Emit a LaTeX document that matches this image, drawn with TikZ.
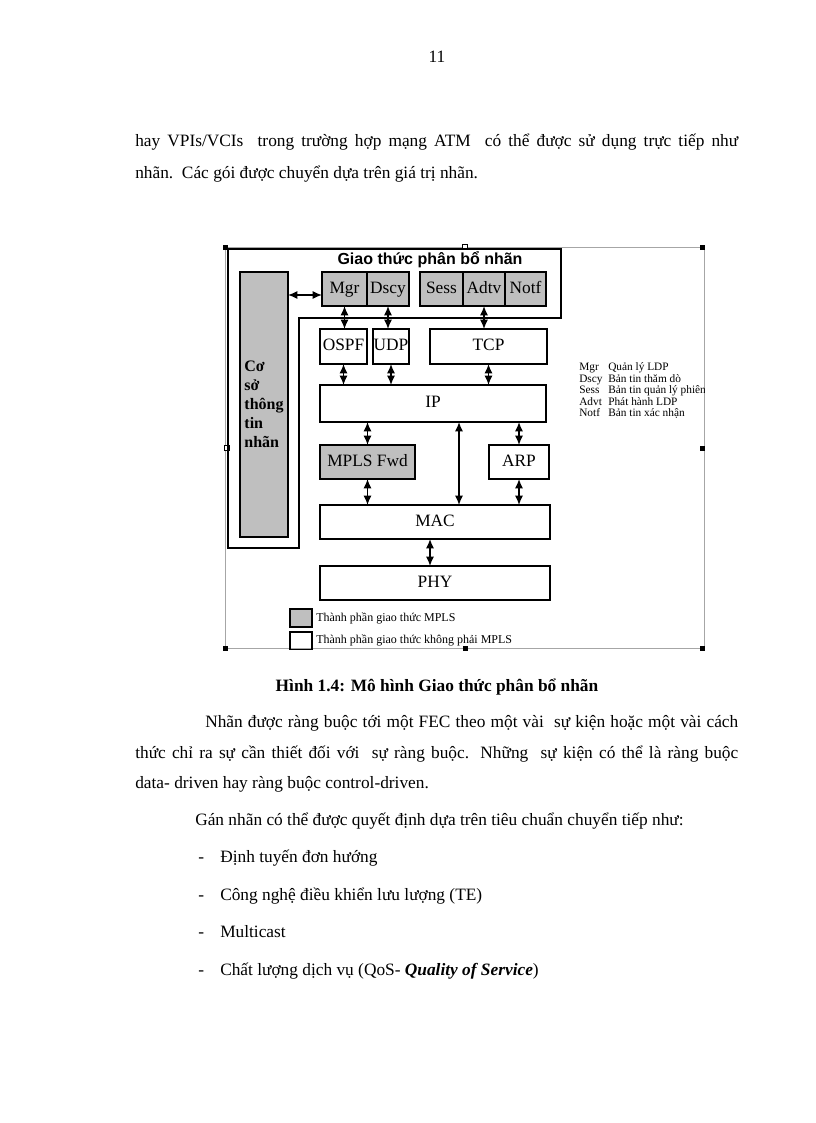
\documentclass[tikz,border=0pt]{standalone}
\usepackage{fontspec}
\setmainfont{Liberation Serif}
\newfontfamily\tieude{Liberation Sans}
\usepackage{tikz}
\usetikzlibrary{arrows, arrows.meta, positioning}

% eine Zeile im Blocksatz
\newcommand{\dongdu}[2]{\makebox[#1][s]{#2}}

\begin{document}
\begin{tikzpicture}[x=0.75pt, y=-0.75pt,
			>={Latex[length=7pt, width=6pt]},   % Pfeilspitzen
			font=\fontsize{13}{15}\selectfont,
			khoi/.style={draw, line width=1.1pt, inner sep=0pt, outer sep=0pt, minimum height=25.5pt, text height=9pt, text depth=2.5pt, font=\fontsize{13}{15}\selectfont},
			khoimpls/.style={khoi, fill=gray!50},
			mui/.style={<->, line width=1.1pt},
			dong/.style={anchor=base west, inner sep=0pt}]
			\useasboundingbox (0,0) rectangle (816,1123);
			% Seitenzahl und Text oben
			\node[anchor=base, inner sep=0pt] (trang) at (437,63) {11};
			\node[dong] (d1) at (135,147) {\dongdu{452.25pt}{hay VPIs/VCIs \ trong trường hợp mạng ATM \ có thể được sử dụng trực tiếp như}};
			\node[dong] (d2) at (135,179) {nhãn.\ \ Các gói được chuyển dựa trên giá trị nhãn.};
			% Rahmen des Bildes
			\draw[gray!70, line width=0.5pt] (225,247) rectangle (704,648);
			\foreach \x/\y in {225/247, 702/247, 702/448, 702/648, 225/648, 465/648}
				\fill (\x-2.5,\y-2.5) rectangle (\x+2.5,\y+2.5);
			\foreach \x/\y in {465/247, 227/448}
				\draw[fill=white, line width=0.6pt] (\x-2.5,\y-2.5) rectangle (\x+2.5,\y+2.5);
			% Bereich Giao thuc phan bo nhan
			\draw[line width=0.8pt] (228,249) -- (561,249) -- (561,318) -- (299,318) -- (299,548) -- (228,548) -- cycle;
			\node[font=\tieude\bfseries\fontsize{12}{14}\selectfont] (tieude) at (430,260) {Giao thức phân bổ nhãn};
			\node[khoimpls, minimum width=36pt, minimum height=198.75pt, text height=, text depth=, align=left, font=\bfseries\fontsize{12}{14.25}\selectfont] (cosm) at (264,404.5) {Cơ\\sở\\thông\\tin\\nhãn};
			% Kaesten
			\node[khoimpls, minimum width=33.75pt] (mgr) at (344.5,289) {Mgr};
			\node[khoimpls, minimum width=31.5pt] (dscy) at (388,289) {Dscy};
			\node[khoimpls, minimum width=32.25pt] (sess) at (441.5,289) {Sess};
			\node[khoimpls, minimum width=31.5pt] (adtv) at (484,289) {Adtv};
			\node[khoimpls, minimum width=30.75pt] (notf) at (525.5,289) {Notf};
			\node[khoi, minimum width=35.25pt, minimum height=26.25pt] (ospf) at (343.5,346.5) {OSPF};
			\node[khoi, minimum width=27pt, minimum height=26.25pt] (udp) at (391,346.5) {UDP};
			\node[khoi, minimum width=87.75pt, minimum height=26.25pt] (tcp) at (488.5,346.5) {TCP};
			\node[khoi, minimum width=169.5pt, minimum height=27.75pt] (ip) at (433,403.5) {IP};
			\node[khoimpls, minimum width=71.25pt] (mplsfwd) at (367.5,462) {MPLS Fwd};
			\node[khoi, minimum width=45pt] (arp) at (519,462) {ARP};
			\node[khoi, minimum width=172.5pt] (mac) at (435,522) {MAC};
			\node[khoi, minimum width=172.5pt] (phy) at (435,583) {PHY};
			% Pfeile
			\draw[mui] (cosm.east |- 0,295) -- (mgr.west |- 0,295);
			\draw[mui] (mgr.south) -- (mgr.south |- ospf.north);
			\draw[mui] (dscy.south) -- (dscy.south |- udp.north);
			\draw[mui] (adtv.south) -- (adtv.south |- tcp.north);
			\draw[mui] (ospf.south) -- (ospf.south |- ip.north);
			\draw[mui] (udp.south) -- (udp.south |- ip.north);
			\draw[mui] (tcp.south) -- (tcp.south |- ip.north);
			\draw[mui] (ip.south -| mplsfwd.north) -- (mplsfwd.north);
			\draw[mui] (ip.south -| arp.north) -- (arp.north);
			\coordinate (ipmac) at (459,0);
			\draw[mui] (ip.south -| ipmac) -- (mac.north -| ipmac);
			\draw[mui] (mplsfwd.south) -- (mplsfwd.south |- mac.north);
			\draw[mui] (arp.south) -- (arp.south |- mac.north);
			\draw[mui] (mac.south -| 430,0) -- (phy.north -| 430,0);
			% Abkuerzungen
			\begin{scope}
				\clip (225,247) rectangle (704,648);
				\foreach \k/\t [count=\i] in {Mgr/Quản lý LDP, Dscy/Bản tin thăm dò, Sess/Bản tin quản lý phiên, Advt/Phát hành LDP, Notf/Bản tin xác nhận}
				{
					\node[dong, font=\fontsize{8.5}{9}\selectfont] (k\i) at (579,359+11.5*\i) {\k};
					\node[dong, font=\fontsize{8.5}{9}\selectfont] (t\i) at (608,359+11.5*\i) {\t};
				}
			\end{scope}
			% Legende
			\node[khoimpls, line width=1pt, minimum width=16.5pt, minimum height=13.5pt] (lgmpls) at (301,618) {};
			\node[khoi, line width=1pt, minimum width=16.5pt, minimum height=13pt] (lgkhac) at (301,640.5) {};
			\node[right=3pt of lgmpls, inner sep=0pt, font=\fontsize{9}{10}\selectfont] (tmpls) {Thành phần giao thức MPLS};
			\node[right=3pt of lgkhac, inner sep=0pt, font=\fontsize{9}{10}\selectfont] (tkhac) {Thành phần giao thức không phải MPLS};
			% Bildunterschrift
			\node[anchor=base, inner sep=0pt, font=\bfseries\fontsize{13}{15}\selectfont] (hinh) at (437,691) {Hình 1.4: Mô hình Giao thức phân bổ nhãn};
			% Text unten
			\node[dong] (d3) at (205,727) {\dongdu{399.75pt}{Nhãn được ràng buộc tới một FEC theo một vài \ sự kiện hoặc một vài cách}};
			\node[dong] (d4) at (135,758) {\dongdu{452.25pt}{thức chỉ ra sự cần thiết đối với \ sự ràng buộc. Những \ sự kiện có thể là ràng buộc}};
			\node[dong] (d5) at (135,788) {data- driven hay ràng buộc control-driven.};
			\node[dong] (d6) at (195,825) {Gán nhãn có thể được quyết định dựa trên tiêu chuẩn chuyển tiếp như:};
			\foreach \t [count=\i] in {Định tuyến đơn hướng, Công nghệ điều khiển lưu lượng (TE), Multicast, {Chất lượng dịch vụ (QoS- \textbf{\textit{Quality of Service}})}}
			{
				\node[dong] (g\i) at (198,825+37.5*\i) {-};
				\node[dong] (m\i) at (220,825+37.5*\i) {\t};
			}
		\end{tikzpicture}
\end{document}
